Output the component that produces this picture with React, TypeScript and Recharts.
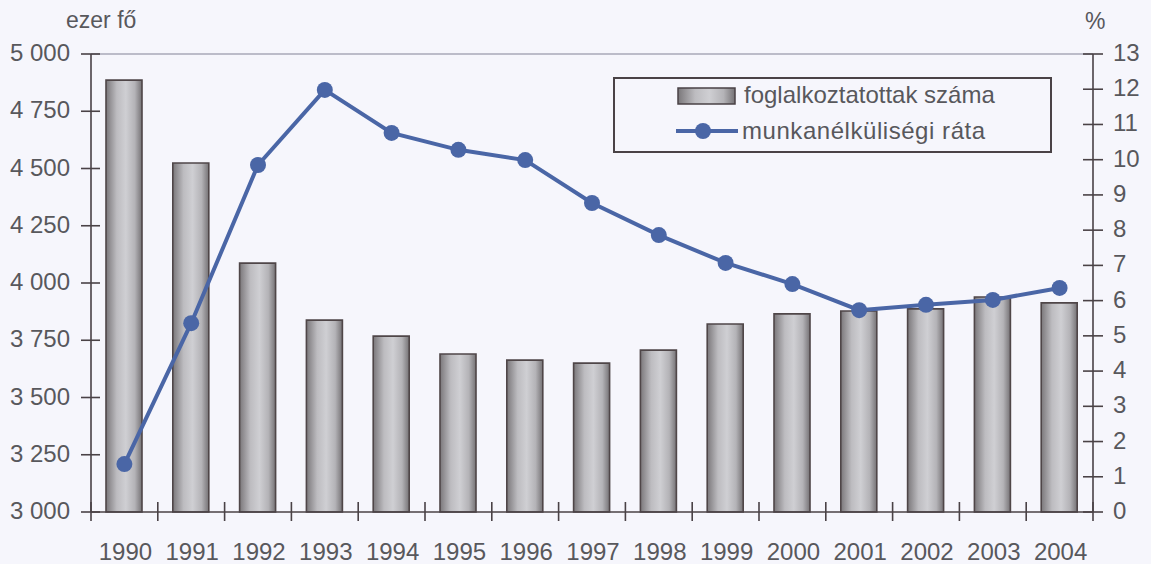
import React from "react";
import { ComposedChart, Bar, Line, XAxis, YAxis, ReferenceLine } from "recharts";

const years = ["1990","1991","1992","1993","1994","1995","1996","1997","1998","1999","2000","2001","2002","2003","2004"];
const employed = [4886,4524,4087,3838,3768,3690,3663,3650,3707,3821,3865,3878,3887,3939,3913];
const unemployment = [1.36,5.36,9.85,11.98,10.76,10.28,9.99,8.77,7.86,7.07,6.47,5.73,5.88,6.02,6.36];
const leftTicks = [3000,3250,3500,3750,4000,4250,4500,4750,5000];
const rightTicks = [0,1,2,3,4,5,6,7,8,9,10,11,12,13];
const data = years.map((y, i) => ({ year: y, employed: employed[i], unemployment: unemployment[i] }));

const FONT = "'Liberation Sans', Arial, sans-serif";
const TEXT = "#58585c";
const AXIS = "#4a4246";
const BLUE = "#4a66a6";
const BG = "#f6f6fc";
const BAND = 66.8;

const fmt = (v: number) => (v >= 1000 ? `${Math.floor(v / 1000)} ${String(v % 1000).padStart(3, "0")}` : String(v));

const LeftTick = ({ y, payload }: any) => (
  <g>
    <line x1={81} x2={100} y1={y} y2={y} stroke={AXIS} strokeWidth={1.6} />
    <text x={70} y={y + 7} textAnchor="end" fontSize={24} fontFamily={FONT} fill={TEXT}>{fmt(payload.value)}</text>
  </g>
);
const RightTick = ({ y, payload }: any) => (
  <g>
    <line x1={1083} x2={1103} y1={y} y2={y} stroke={AXIS} strokeWidth={1.6} />
    <text x={1113} y={y + 7} textAnchor="start" fontSize={24} fontFamily={FONT} fill={TEXT}>{payload.value}</text>
  </g>
);
const BottomTick = ({ x, payload, index }: any) => (
  <g>
    <line x1={x - BAND / 2} x2={x - BAND / 2} y1={502} y2={521} stroke={AXIS} strokeWidth={1.6} />
    {index === years.length - 1 && <line x1={x + BAND / 2} x2={x + BAND / 2} y1={502} y2={521} stroke={AXIS} strokeWidth={1.6} />}
    <text x={x + 1} y={560} textAnchor="middle" fontSize={24} fontFamily={FONT} fill={TEXT}>{payload.value}</text>
  </g>
);

export default function App() {
  return (
    <div style={{ position: "absolute", left: 0, top: 0, width: 1151, height: 564, background: BG, overflow: "hidden" }}>
      <ComposedChart width={1151} height={564} data={data} margin={{ top: 54, right: 0, bottom: 0, left: 0 }} barCategoryGap={0}>
        <defs>
          <linearGradient id="barGrad" x1="0" x2="1" y1="0" y2="0">
            <stop offset="0" stopColor="#7a777a" />
            <stop offset="0.3" stopColor="#bdbcc0" />
            <stop offset="0.55" stopColor="#cfcfd3" />
            <stop offset="0.8" stopColor="#b4b3b7" />
            <stop offset="1" stopColor="#757275" />
          </linearGradient>
        </defs>
        <XAxis dataKey="year" interval={0} tickLine={false} tick={<BottomTick />} height={52} stroke={AXIS} strokeWidth={1.6} />
        <YAxis yAxisId="left" domain={[3000, 5000]} ticks={leftTicks} interval={0} tickLine={false} tick={<LeftTick />} width={91} stroke={AXIS} strokeWidth={1.6} />
        <YAxis yAxisId="right" orientation="right" domain={[0, 13]} ticks={rightTicks} interval={0} tickLine={false} tick={<RightTick />} width={58} stroke={AXIS} strokeWidth={1.6} />
        <ReferenceLine yAxisId="left" y={5000} stroke="#a9a9b8" strokeWidth={1.5} />
        <Bar yAxisId="left" dataKey="employed" barSize={36} fill="url(#barGrad)" stroke="#4f4648" strokeWidth={1.6} isAnimationActive={false} />
        <Line yAxisId="right" dataKey="unemployment" stroke={BLUE} strokeWidth={4} dot={{ r: 8, fill: BLUE, stroke: BLUE, strokeWidth: 0 }} isAnimationActive={false} />
        <g>
          <rect x={614} y={78} width={437} height={74} fill={BG} stroke={AXIS} strokeWidth={2} />
          <rect x={678} y={88} width={57} height={16} fill="url(#barGrad)" stroke={AXIS} strokeWidth={1.5} />
          <line x1={676} x2={738} y1={131} y2={131} stroke={BLUE} strokeWidth={4} />
          <circle cx={703} cy={131} r={8} fill={BLUE} />
          <text x={744} y={103} fontSize={24} fontFamily={FONT} fill={TEXT}>foglalkoztatottak száma</text>
          <text x={742} y={139} fontSize={24} letterSpacing={0.55} fontFamily={FONT} fill={TEXT}>munkanélküliségi ráta</text>
        </g>
        <text x={66} y={28} fontSize={23} fontFamily={FONT} fill={TEXT}>ezer fő</text>
        <text x={1085} y={29} fontSize={23} fontFamily={FONT} fill={TEXT}>%</text>
      </ComposedChart>
    </div>
  );
}
